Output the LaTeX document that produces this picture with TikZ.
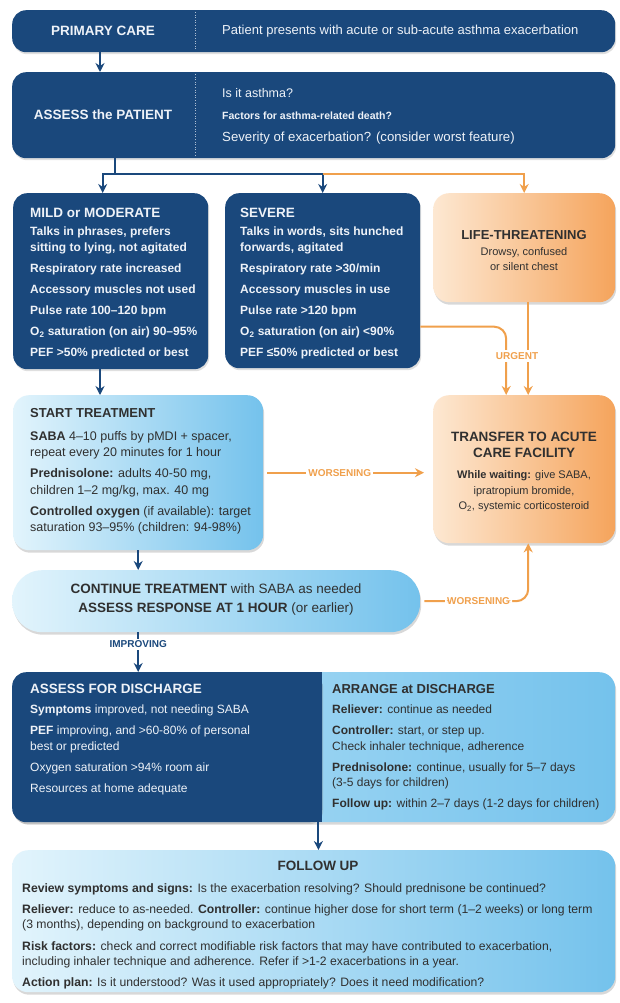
\documentclass[tikz,border=0pt]{standalone}
\usepackage{fontspec}
\setmainfont{Liberation Sans}
\usetikzlibrary{positioning, calc, arrows.meta, shadows}

\definecolor{navy}{RGB}{26,72,124}
\definecolor{navytext}{RGB}{238,242,248}
\definecolor{skypale}{RGB}{226,244,252}
\definecolor{skydeep}{RGB}{116,194,236}
\definecolor{skymid}{RGB}{172,221,246}
\definecolor{peachpale}{RGB}{253,232,210}
\definecolor{peachdeep}{RGB}{245,164,92}
\definecolor{amber}{RGB}{240,160,76}
\definecolor{ink}{RGB}{48,48,48}

\tikzset{
  darkbox/.style={fill=navy, rounded corners=14pt, anchor=north west, inner sep=0pt,
    drop shadow={opacity=0.25, shadow xshift=1pt, shadow yshift=-2pt}},
  skybox/.style={left color=skypale, right color=skydeep, rounded corners=16pt, anchor=north west,
    inner sep=0pt, drop shadow={opacity=0.3, shadow xshift=1pt, shadow yshift=-2.5pt}},
  peachbox/.style={left color=peachpale, right color=peachdeep, rounded corners=16pt, anchor=north west,
    inner sep=0pt, drop shadow={opacity=0.3, shadow xshift=1pt, shadow yshift=-2.5pt}},
  divider/.style={draw=navytext!70!navy, dotted, line width=0.6pt},
  darkhead/.style={text=navytext, font=\bfseries\fontsize{13.5}{16}\selectfont, inner sep=0pt},
  darktext/.style={text=navytext, font=\fontsize{13}{16}\selectfont, inner sep=0pt},
  darkbody/.style={text=navytext, font=\bfseries\fontsize{12}{16}\selectfont, align=left, anchor=north west, inner sep=0pt},
  lighthead/.style={text=ink, font=\bfseries\fontsize{13}{16}\selectfont, inner sep=0pt},
  lightbody/.style={text=ink, font=\fontsize{12.5}{16.3}\selectfont, align=left, anchor=north west, inner sep=0pt},
  flow/.style={draw=navy, line width=2pt, -{Stealth[length=9pt, width=9pt]}},
  navyline/.style={draw=navy, line width=2pt},
  amberflow/.style={draw=amber, line width=2pt, -{Stealth[length=9pt, width=9pt]}},
  tag/.style={font=\bfseries\fontsize{10}{12}\selectfont, fill=white, inner sep=2pt},
}

\begin{document}
\begin{tikzpicture}[x=1pt, y=-1pt]
\fill[white] (0,0) rectangle (619,1003);

% Primary care
\node[darkbox, minimum width=603pt, minimum height=42pt] (primary) at (12,10) {};
\draw[divider] (195,12) -- (195,50);
\node[darkhead] (primarytitle) at (103,31) {PRIMARY CARE};
\node[darktext, anchor=west] (primarytxt) at (222,31) {Patient presents with acute or sub-acute asthma exacerbation};

% Assess the patient
\node[darkbox, minimum width=603pt, minimum height=86pt] (assess) at (12,72) {};
\draw[divider] (195,74) -- (195,156);
\node[darkhead] (assesstitle) at (103,115) {ASSESS the PATIENT};
\node[darktext, anchor=west, font=\fontsize{12.5}{15}\selectfont] (askasthma) at (222,93) {Is it asthma?};
\node[darktext, anchor=west, font=\bfseries\fontsize{10.5}{13}\selectfont] (askrisk) at (222,116) {Factors for asthma-related death?};
\node[darktext, anchor=west, font=\fontsize{13.2}{15}\selectfont] (askseverity) at (222,138) {Severity of exacerbation? (consider worst feature)};

% Severity boxes
\node[darkbox, minimum width=195pt, minimum height=176pt] (mild) at (13,193) {};
\node[darkhead, anchor=north west] (mildtitle) at (30,208) {MILD or MODERATE};
\node[darkbody] (mildtxt) at (30,227) {Talks in phrases, prefers\\sitting to lying, not agitated\\[5pt]Respiratory rate increased\\[5pt]Accessory muscles not used\\[5pt]Pulse rate 100–120 bpm\\[5pt]O\textsubscript{2} saturation (on air) 90–95\%\\[5pt]PEF >50\% predicted or best};

\node[darkbox, minimum width=195pt, minimum height=175pt] (severe) at (225,193) {};
\node[darkhead, anchor=north west] (severetitle) at (240,208) {SEVERE};
\node[darkbody] (severetxt) at (240,227) {Talks in words, sits hunched\\forwards, agitated\\[5pt]Respiratory rate >30/min\\[5pt]Accessory muscles in use\\[5pt]Pulse rate >120 bpm\\[5pt]O\textsubscript{2} saturation (on air) <90\%\\[5pt]PEF ≤50\% predicted or best};

\node[peachbox, minimum width=182pt, minimum height=109pt] (life) at (433,193) {};
\node[text=ink, align=center, font=\fontsize{11}{15.5}\selectfont] (lifetxt) at (524,251) {{\bfseries\fontsize{13}{16}\selectfont LIFE-THREATENING}\\Drowsy, confused\\or silent chest};

% Treatment
\node[skybox, minimum width=250pt, minimum height=155pt] (start) at (13,395) {};
\node[lighthead, anchor=north west] (starttitle) at (30,408) {START TREATMENT};
\node[lightbody] (starttxt) at (30,431) {\textbf{SABA} 4–10 puffs by pMDI + spacer,\\repeat every 20 minutes for 1 hour\\[5pt]\textbf{Prednisolone:} adults 40-50 mg,\\children 1–2 mg/kg, max. 40 mg\\[5pt]\textbf{Controlled oxygen} (if available): target\\saturation 93–95\% (children: 94-98\%)};

\node[peachbox, minimum width=182pt, minimum height=148pt] (transfer) at (433,395) {};
\node[text=ink, align=center, font=\fontsize{11}{15.5}\selectfont] (transfertxt) at (524,472) {{\bfseries\fontsize{13.5}{16}\selectfont TRANSFER TO ACUTE}\\{\bfseries\fontsize{13.5}{16}\selectfont CARE FACILITY}\\[6pt]\textbf{While waiting:} give SABA,\\ipratropium bromide,\\O\textsubscript{2}, systemic corticosteroid};

\node[skybox, rounded corners=30pt, minimum width=408pt, minimum height=62pt] (treat) at (12,570) {};
\node[text=ink, align=center, font=\fontsize{13.5}{19}\selectfont] (treattxt) at (216,600) {\textbf{CONTINUE TREATMENT} with SABA as needed\\\textbf{ASSESS RESPONSE AT 1 HOUR} (or earlier)};

% Discharge
\node[skybox, left color=skymid!75!skypale, right color=skydeep, minimum width=603pt, minimum height=150pt] (arrange) at (12,672) {};
\node[darkbox, drop shadow={opacity=0}, minimum width=310pt, minimum height=150pt] (discharge) at (12,672) {};
\fill[navy] (discharge.north east) rectangle ([xshift=-18pt]discharge.south east);
\node[darkhead, anchor=north west] (dischargetitle) at (30,684) {ASSESS FOR DISCHARGE};
\node[darkbody, font=\fontsize{12}{16}\selectfont] (dischargetxt) at (30,705) {\textbf{Symptoms} improved, not needing SABA\\[5pt]\textbf{PEF} improving, and >60-80\% of personal\\best or predicted\\[5pt]Oxygen saturation >94\% room air\\[5pt]Resources at home adequate};
\node[lighthead, anchor=north west] (arrangetitle) at (332,684) {ARRANGE at DISCHARGE};
\node[lightbody, font=\fontsize{12}{15.5}\selectfont] (arrangetxt) at (332,705) {\textbf{Reliever:} continue as needed\\[5.5pt]\textbf{Controller:} start, or step up.\\Check inhaler technique, adherence\\[5.5pt]\textbf{Prednisolone:} continue, usually for 5–7 days\\(3-5 days for children)\\[5.5pt]\textbf{Follow up:} within 2–7 days (1-2 days for children)};

% Follow up
\node[skybox, minimum width=603pt, minimum height=142pt] (followup) at (12,850) {};
\node[lighthead, font=\bfseries\fontsize{13.5}{16}\selectfont] (followuptitle) at (318,866) {FOLLOW UP};
\node[lightbody, font=\fontsize{12.2}{15}\selectfont] (followuptxt) at (22,883) {\textbf{Review symptoms and signs:} Is the exacerbation resolving? Should prednisone be continued?\\[6pt]\textbf{Reliever:} reduce to as-needed. \textbf{Controller:} continue higher dose for short term (1–2 weeks) or long term\\(3 months), depending on background to exacerbation\\[7pt]\textbf{Risk factors:} check and correct modifiable risk factors that may have contributed to exacerbation,\\including inhaler technique and adherence. Refer if >1-2 exacerbations in a year.\\[6pt]\textbf{Action plan:} Is it understood? Was it used appropriately? Does it need modification?};

% Connectors
\coordinate (spine) at (100,0);
\coordinate (fork) at (115,174);
\coordinate (dcout) at ([xshift=-4pt]discharge.south east);
\draw[flow] (primary.south -| spine) -- (assess.north -| spine);
\draw[navyline] (assess.south -| fork) -- (fork);
\draw[flow] (fork) -| ([xshift=-8pt]mild.north);
\draw[flow] (fork) -| (severe.north);
\draw[amberflow] (severe.north |- fork) -| (life.north);
\draw[flow] (mild.south -| spine) -- (start.north -| spine);
\draw[amberflow, rounded corners=12pt] ([yshift=-46pt]severe.east) -| ([xshift=-18pt]transfer.north);
\draw[amberflow] ([xshift=4pt]life.south) -- ([xshift=4pt]transfer.north);
\node[tag, text=amber] (urgent) at (517,356) {URGENT};
\draw[amberflow, shorten <=4pt, shorten >=9pt] (start.east) -- (transfer.west |- start.east)
  node[tag, text=amber, pos=0.45] (worse1) {WORSENING};
\draw[flow] (start.south) -- (treat.north -| start.south);
\draw[amberflow, rounded corners=12pt, shorten <=4pt] (treat.east) -| ([xshift=4pt]transfer.south)
  node[tag, text=amber, pos=0.27] (worse2) {WORSENING};
\draw[flow] (treat.south -| start.south) -- (discharge.north -| start.south)
  node[tag, text=navy, pos=0.3] (improving) {IMPROVING};
\draw[flow] (dcout) -- (followup.north -| dcout);
\end{tikzpicture}
\end{document}
